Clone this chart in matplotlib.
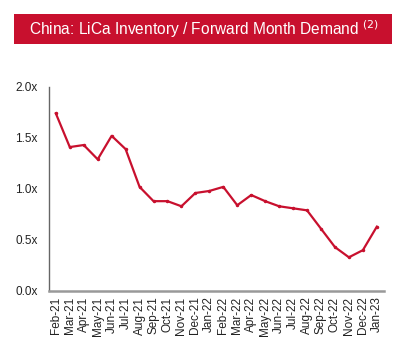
import matplotlib.pyplot as plt
from matplotlib.patches import Rectangle

plt.rcParams['font.family'] = ['Liberation Sans', 'DejaVu Sans']

months = ['Feb-21', 'Mar-21', 'Apr-21', 'May-21', 'Jun-21', 'Jul-21', 'Aug-21',
          'Sep-21', 'Oct-21', 'Nov-21', 'Dec-21', 'Jan-22', 'Feb-22', 'Mar-22',
          'Apr-22', 'May-22', 'Jun-22', 'Jul-22', 'Aug-22', 'Sep-22', 'Oct-22',
          'Nov-22', 'Dec-22', 'Jan-23']
ratio = [1.74, 1.41, 1.43, 1.29, 1.52, 1.39, 1.02, 0.88, 0.88, 0.83, 0.96,
         0.98, 1.02, 0.84, 0.94, 0.88, 0.83, 0.81, 0.79, 0.61, 0.43, 0.33,
         0.40, 0.63]

red = '#C8102E'

fig = plt.figure(figsize=(4.07, 3.46), dpi=100)

# header banner
fig.patches.append(Rectangle((0.034, 0.873), 0.929, 0.087, transform=fig.transFigure,
                             facecolor=red, edgecolor='none'))
fig.text(0.50, 0.916, 'China: LiCa Inventory / Forward Month Demand $^{(2)}$',
         color='white', fontsize=11.2, ha='center', va='center')

ax = fig.add_axes([0.120, 0.159, 0.823, 0.590])
x = range(len(months))
ax.plot(x, ratio, color=red, lw=1.6, marker='o', ms=1.5)

ax.set_xlim(-0.5, len(months) - 0.5)
ax.set_ylim(0, 2.0)
ax.set_yticks([0, 0.5, 1.0, 1.5, 2.0])
ax.set_yticklabels(['%.1fx' % v for v in [0, 0.5, 1.0, 1.5, 2.0]])
ax.set_xticks(list(x))
ax.set_xticklabels(months, rotation=90)
ax.tick_params(length=0, labelsize=8.5, colors='#222222', pad=4)
ax.tick_params(axis='y', pad=8)

for s in ['top', 'right']:
    ax.spines[s].set_visible(False)
ax.spines['left'].set_color('#666666')
ax.spines['left'].set_linewidth(1)
ax.spines['bottom'].set_color('#999999')
ax.spines['bottom'].set_linewidth(1.8)

fig.savefig('out.png', dpi=100)
